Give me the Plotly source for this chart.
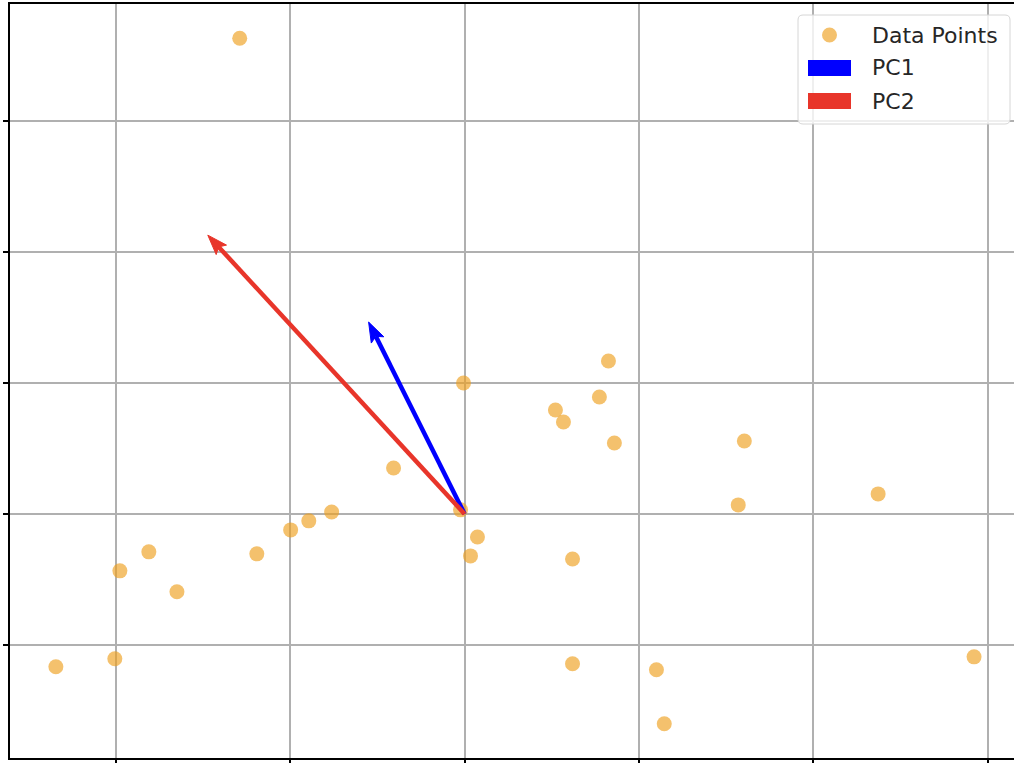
import math
import plotly.graph_objects as go

# data points
x_vals = [-1.289, -0.006, 0.825, 0.773, 0.521, 0.567, 0.859, 1.604, 2.371, 1.569,
          -0.407, -0.762, -0.893, -0.997, -1.191, -1.810, -1.976, -1.649, -2.343, -2.005,
          -0.023, 0.074, 0.034, 0.619, 0.619, 1.100, 1.145, 2.921]
y_vals = [3.634, 1.000, 1.168, 0.893, 0.794, 0.702, 0.542, 0.557, 0.153, 0.069,
          0.351, 0.015, -0.053, -0.122, -0.305, -0.290, -0.435, -0.595, -1.168, -1.107,
          0.031, -0.176, -0.321, -0.344, -1.145, -1.191, -1.603, -1.092]

origin = [0.0, 0.0]
pc_names = ["PC1", "PC2"]
pc_dx = [-0.550, -1.472]
pc_dy = [1.466, 2.130]
pc_colors = ["#0000ff", "#e8352a"]
point_color = "rgba(238,160,30,0.65)"

x_ticks = [-2, -1, 0, 1, 2, 3]
y_ticks = [-1, 0, 1, 2, 3]
x_range = [-2.606, 3.150]
y_range = [-1.865, 3.896]

legend_labels = ["Data Points", "PC1", "PC2"]

W, H = 1014, 763
ML, MR, MT, MB = 10, 0, 4, 5
PW, PH = W - ML - MR, H - MT - MB
SX = PW / (x_range[1] - x_range[0])  # pixels per x unit
SY = PH / (y_range[1] - y_range[0])  # pixels per y unit
HEAD_LEN, HEAD_HALF, HEAD_AXIS = 20, 7, 16


def px(x):
    return (x - ML) / PW


def py(y):
    return (H - MB - y) / PH


fig = go.Figure()
fig.add_trace(go.Scatter(
    x=x_vals, y=y_vals, mode="markers", name="Data Points",
    marker=dict(size=15, color=point_color, line=dict(width=0)),
    showlegend=False,
))

for name, dx, dy, col in zip(pc_names, pc_dx, pc_dy, pc_colors):
    tx, ty = origin[0] + dx, origin[1] + dy
    ux, uy = dx * SX, dy * SY
    n = math.hypot(ux, uy)
    ux, uy = ux / n, uy / n
    nx, ny = -uy, ux
    bx = tx - HEAD_LEN * ux / SX
    by = ty - HEAD_LEN * uy / SY
    ax_ = tx - HEAD_AXIS * ux / SX
    ay_ = ty - HEAD_AXIS * uy / SY
    # shaft
    fig.add_trace(go.Scatter(
        x=[origin[0], ax_], y=[origin[1], ay_],
        mode="lines", line=dict(color=col, width=4.5), name=name, showlegend=False,
        hoverinfo="skip",
    ))
    # head
    fig.add_trace(go.Scatter(
        x=[tx, bx + HEAD_HALF * nx / SX, ax_, bx - HEAD_HALF * nx / SX, tx],
        y=[ty, by + HEAD_HALF * ny / SY, ay_, by - HEAD_HALF * ny / SY, ty],
        mode="lines", fill="toself", fillcolor=col, line=dict(color=col, width=1),
        showlegend=False, hoverinfo="skip",
    ))

# legend box (drawn like matplotlib's legend)
bx0, bx1, by0, by1, r = 798, 1010, 15, 124, 5
path = (f"M {px(bx0 + r)} {py(by0)} L {px(bx1 - r)} {py(by0)} "
        f"Q {px(bx1)} {py(by0)} {px(bx1)} {py(by0 + r)} "
        f"L {px(bx1)} {py(by1 - r)} Q {px(bx1)} {py(by1)} {px(bx1 - r)} {py(by1)} "
        f"L {px(bx0 + r)} {py(by1)} Q {px(bx0)} {py(by1)} {px(bx0)} {py(by1 - r)} "
        f"L {px(bx0)} {py(by0 + r)} Q {px(bx0)} {py(by0)} {px(bx0 + r)} {py(by0)} Z")
fig.add_shape(type="path", path=path, xref="paper", yref="paper",
              fillcolor="rgba(255,255,255,0.8)", line=dict(color="#d6d6d6", width=1),
              layer="above")

row_y = [35, 68, 101]
# marker entry
fig.add_shape(type="circle", xref="paper", yref="paper",
              x0=px(822), x1=px(837), y0=py(row_y[0] - 7.5), y1=py(row_y[0] + 7.5),
              fillcolor=point_color, line=dict(width=0), layer="above")
# PC entries
for ry, col in zip(row_y[1:], pc_colors):
    fig.add_shape(type="rect", xref="paper", yref="paper",
                  x0=px(808), x1=px(851), y0=py(ry - 8), y1=py(ry + 8),
                  fillcolor=col, line=dict(width=0), layer="above")
for ry, lab in zip(row_y, legend_labels):
    fig.add_annotation(x=px(870), y=py(ry), xref="paper", yref="paper",
                       text=lab, showarrow=False, xanchor="left", yanchor="middle",
                       font=dict(family="DejaVu Sans", size=22, color="#262626"))

fig.update_layout(
    width=W, height=H,
    margin=dict(l=ML, r=MR, t=MT, b=MB),
    paper_bgcolor="white", plot_bgcolor="white",
    font=dict(family="DejaVu Sans", size=22, color="#222"),
    showlegend=False,
    xaxis=dict(
        range=x_range, tickvals=x_ticks, showticklabels=False,
        showgrid=True, gridcolor="#b0b0b0", gridwidth=1.5, zeroline=False,
        showline=True, linecolor="black", linewidth=2, mirror=True,
        ticks="outside", ticklen=5, tickwidth=2, tickcolor="black",
    ),
    yaxis=dict(
        range=y_range, tickvals=y_ticks, showticklabels=False,
        showgrid=True, gridcolor="#b0b0b0", gridwidth=1.5, zeroline=False,
        showline=True, linecolor="black", linewidth=2, mirror=False,
        ticks="outside", ticklen=5, tickwidth=2, tickcolor="black",
    ),
)

fig.write_html("out.html", config={"displayModeBar": False},
               post_script="document.body.style.margin='0px';")
